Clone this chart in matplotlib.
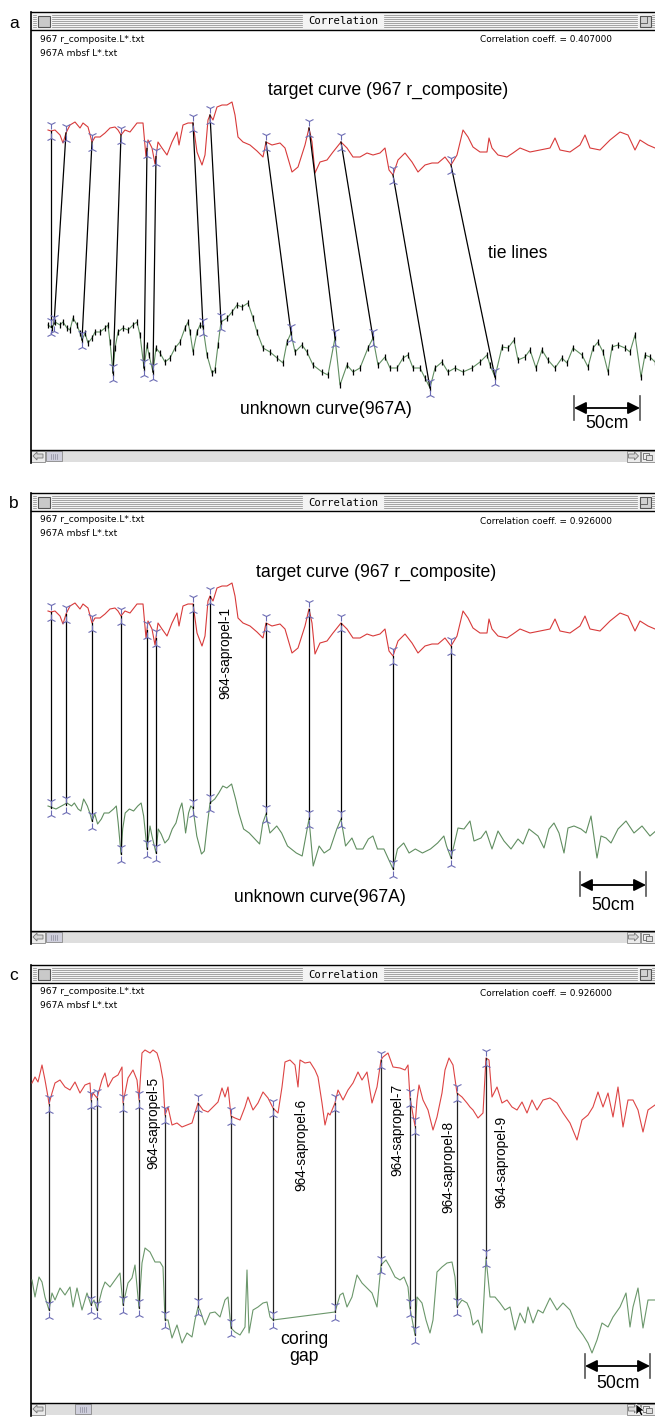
import numpy as np
import matplotlib.pyplot as plt
from matplotlib.patches import Rectangle, Polygon
from matplotlib.transforms import offset_copy

plt.rcParams['font.family'] = ['Liberation Sans', 'DejaVu Sans']
plt.rcParams['hatch.color'] = '#b0b0b0'
plt.rcParams['hatch.linewidth'] = 0.5

# ---- core 967 target curve (r_composite) and unknown curve (967A), panels a/b
target_x = [48, 51, 55, 60, 63, 66, 70, 75, 80, 83, 88, 92, 95, 100, 105, 110,
            115, 118, 121, 125, 130, 137, 143, 146, 148, 152, 155, 158, 162,
            167, 172, 177, 179, 183, 188, 193, 197, 202, 205, 208, 210, 213,
            217, 222, 227, 232, 235, 238, 243, 250, 257, 263, 266, 272, 280,
            285, 292, 298, 305, 309, 312, 315, 320, 327, 333, 341, 347, 353,
            360, 367, 373, 380, 385, 389, 393, 398, 405, 412, 418, 425, 432,
            438, 445, 451, 457, 463, 468, 473, 480, 487, 489, 492, 498, 507,
            513, 520, 530, 540, 550, 555, 560, 570, 580, 585, 590, 600, 610,
            620, 628, 635, 640, 648, 655]
target_v = [130, 131, 130, 135, 143, 133, 125, 122, 128, 123, 127, 142, 137, 137,
            133, 128, 127, 130, 135, 130, 132, 123, 123, 157, 140, 148, 164, 142,
            148, 155, 142, 132, 145, 125, 123, 123, 152, 165, 155, 120, 115, 120,
            107, 105, 105, 102, 115, 137, 142, 145, 151, 157, 142, 145, 143, 148,
            172, 167, 145, 128, 142, 173, 162, 160, 152, 142, 148, 157, 157, 153,
            155, 153, 148, 170, 175, 160, 153, 162, 172, 165, 163, 163, 157, 165,
            155, 130, 137, 147, 152, 152, 138, 148, 155, 157, 153, 148, 152, 150,
            148, 138, 150, 152, 145, 135, 148, 150, 140, 132, 135, 150, 140, 145,
            148]

unknown_x = [48, 52, 55, 60, 63, 67, 70, 73, 77, 80, 82, 85, 88, 92, 95, 100,
             105, 108, 110, 113, 115, 118, 123, 128, 133, 137, 140, 144, 147,
             149, 153, 156, 160, 165, 170, 175, 180, 185, 188, 190, 193, 197,
             200, 203, 207, 212, 215, 218, 221, 227, 232, 237, 242, 248, 253,
             257, 263, 270, 277, 283, 287, 291, 295, 302, 307, 313, 322, 328,
             335, 340, 347, 353, 360, 368, 373, 378, 385, 390, 397, 403, 408,
             413, 420, 425, 430, 435, 442, 448, 455, 463, 472, 480, 487, 490,
             495, 502, 508, 514, 518, 525, 530, 536, 542, 548, 555, 562, 567,
             573, 582, 588, 593, 598, 603, 608, 612, 618, 625, 630, 635, 641,
             645, 650, 655, 662, 670, 678, 686, 694, 702]
unknown_v = [325, 328, 322, 325, 322, 328, 330, 318, 325, 333, 340, 333, 343, 338,
             332, 332, 328, 325, 342, 373, 348, 332, 328, 330, 325, 322, 335, 368,
             345, 355, 372, 348, 353, 362, 358, 348, 342, 328, 322, 332, 352, 332,
             325, 327, 355, 373, 370, 345, 322, 318, 312, 305, 307, 303, 318, 332,
             348, 352, 358, 363, 342, 333, 352, 345, 352, 365, 372, 375, 338, 385,
             365, 372, 368, 348, 338, 365, 357, 368, 368, 358, 355, 368, 368, 378,
             388, 368, 362, 372, 368, 372, 368, 362, 355, 365, 377, 347, 348, 340,
             360, 357, 350, 368, 350, 360, 368, 358, 363, 348, 355, 367, 348, 342,
             352, 372, 347, 345, 348, 352, 335, 377, 355, 357, 362, 348, 340, 352,
             345, 355, 348]

# tie points: position on target curve -> position on unknown curve
tie_target = [51, 66, 92, 121, 147, 156, 193, 210, 266, 309, 341, 393, 451]
tie_unknown = [51, 54, 82, 113, 144, 153, 203, 221, 291, 335, 373, 430, 495]

# ---- deeper interval, panel c
c_target_x = [32, 35, 38, 42, 45, 48, 49, 52, 55, 60, 65, 70, 75, 80, 85, 90, 91,
              93, 97, 102, 105, 108, 113, 118, 122, 123, 128, 133, 137, 139, 142,
              145, 150, 153, 157, 160, 163, 165, 168, 172, 177, 182, 187, 192,
              195, 198, 203, 208, 213, 218, 222, 225, 228, 231, 235, 240, 245,
              248, 253, 258, 263, 268, 273, 278, 282, 285, 290, 295, 298, 300,
              305, 310, 315, 318, 322, 325, 328, 330, 335, 338, 343, 348, 353,
              358, 362, 367, 372, 377, 381, 383, 388, 393, 400, 405, 408, 410,
              415, 417, 419, 423, 428, 433, 437, 442, 445, 449, 453, 457, 462,
              467, 470, 473, 478, 483, 486, 489, 492, 497, 502, 507, 512, 517,
              522, 527, 532, 537, 543, 550, 557, 563, 570, 577, 582, 588, 593,
              598, 603, 608, 613, 618, 623, 628, 633, 638, 643, 648, 655]
c_target_v = [1083, 1077, 1082, 1065, 1080, 1097, 1104, 1093, 1083, 1080, 1087,
              1090, 1082, 1093, 1085, 1083, 1100, 1093, 1098, 1080, 1073, 1087,
              1078, 1075, 1067, 1103, 1078, 1070, 1080, 1100, 1053, 1050, 1053,
              1050, 1053, 1063, 1080, 1115, 1107, 1125, 1123, 1127, 1125, 1123,
              1113, 1103, 1110, 1112, 1107, 1102, 1088, 1097, 1087, 1116, 1118,
              1120, 1107, 1097, 1110, 1103, 1092, 1098, 1108, 1113, 1087, 1062,
              1060, 1065, 1087, 1060, 1063, 1062, 1070, 1077, 1103, 1125, 1113,
              1115, 1103, 1090, 1100, 1090, 1083, 1072, 1080, 1072, 1103, 1087,
              1060, 1057, 1053, 1067, 1068, 1070, 1065, 1098, 1126, 1100, 1085,
              1100, 1110, 1130, 1117, 1093, 1070, 1058, 1065, 1093, 1097, 1103,
              1107, 1110, 1118, 1113, 1058, 1060, 1097, 1087, 1103, 1100, 1107,
              1110, 1102, 1113, 1100, 1110, 1100, 1098, 1103, 1113, 1123, 1140,
              1120, 1115, 1107, 1092, 1107, 1093, 1117, 1087, 1127, 1100, 1100,
              1110, 1132, 1110, 1105]

c_unknown_x = [32, 35, 39, 42, 45, 49, 52, 55, 60, 65, 70, 73, 77, 82, 87, 91, 94,
               97, 102, 105, 110, 115, 120, 123, 128, 132, 135, 139, 142, 145,
               150, 155, 160, 163, 165, 168, 172, 177, 182, 187, 192, 195, 198,
               200, 205, 210, 215, 220, 225, 228, 231, 235, 240, 245, 247, 249,
               253, 258, 263, 267, 270, 273, 335, 340, 343, 347, 352, 357, 362,
               367, 372, 377, 381, 386, 390, 395, 400, 404, 408, 410, 415, 417,
               422, 426, 430, 433, 437, 442, 447, 452, 455, 457, 462, 467, 470,
               473, 478, 482, 484, 486, 490, 495, 500, 505, 510, 515, 520, 525,
               528, 533, 538, 543, 550, 557, 563, 570, 577, 583, 588, 592, 597,
               602, 608, 613, 620, 626, 630, 633, 638, 643, 648, 655]
c_unknown_v = [1280, 1297, 1277, 1282, 1297, 1310, 1293, 1300, 1288, 1295, 1287,
               1307, 1288, 1310, 1293, 1305, 1300, 1310, 1290, 1282, 1287, 1280,
               1273, 1305, 1283, 1278, 1265, 1308, 1263, 1248, 1252, 1262, 1262,
               1267, 1320, 1320, 1338, 1325, 1343, 1333, 1337, 1320, 1307, 1310,
               1325, 1313, 1312, 1317, 1300, 1297, 1328, 1332, 1335, 1327, 1270,
               1333, 1310, 1307, 1303, 1302, 1317, 1320, 1312, 1295, 1293, 1307,
               1297, 1275, 1283, 1288, 1293, 1307, 1265, 1260, 1267, 1277, 1280,
               1277, 1287, 1308, 1335, 1297, 1303, 1320, 1333, 1320, 1272, 1267,
               1263, 1262, 1277, 1307, 1300, 1303, 1310, 1325, 1320, 1333, 1297,
               1258, 1297, 1297, 1303, 1310, 1307, 1330, 1313, 1323, 1307, 1323,
               1310, 1313, 1298, 1310, 1303, 1310, 1327, 1335, 1343, 1353, 1340,
               1323, 1327, 1317, 1307, 1293, 1327, 1307, 1288, 1328, 1300, 1300]
c_ties = [49, 91, 97, 123, 139, 165, 198, 231, 273, 335, 381, 410, 415, 457, 486]

coeffs = ['0.407000', '0.926000', '0.926000']
files = ['967 r_composite.L*.txt', '967A mbsf L*.txt']
c_sapropels = ['964-sapropel-5', '964-sapropel-6', '964-sapropel-7',
               '964-sapropel-8', '964-sapropel-9']

RED = '#d83a3a'
GREEN = '#618e61'
MARK = '#6c6cb4'
W, H = 655, 1417

fig = plt.figure(figsize=(W / 100, H / 100), dpi=100)
bg = fig.add_axes([0, 0, 1, 1])
bg.set_xlim(0, W)
bg.set_ylim(H, 0)
bg.axis('off')


def arrow_glyph(cx, cy, direction):
    pts = np.array([(-5, 0), (-1, -4), (-1, -2), (5, -2), (5, 2), (-1, 2), (-1, 4)])
    pts[:, 0] *= direction
    bg.add_patch(Polygon(pts + [cx, cy], closed=True, fc='#d8d8d8', ec='#777', lw=0.6))


def window(top, letter, coeff, thumb_x):
    # title bar
    bg.add_patch(Rectangle((31, top), W - 31, 18, fc='#f4f4f4', ec='none'))
    for k in range(7):
        y = top + 3 + 2 * k
        for x0, x1 in [(33, 36), (52, 302), (384, 637), (652, W)]:
            bg.plot([x0, x1], [y, y], color='#8e8e8e', lw=0.55)
    bg.add_patch(Rectangle((38, top + 3.5), 12, 11, fc='#c9c9c9', ec='#555', lw=0.8))
    bg.add_patch(Rectangle((640, top + 3.5), 11, 11, fc='#d2d2d2', ec='#555', lw=0.8))
    bg.add_patch(Rectangle((640, top + 3.5), 7, 7, fc='none', ec='#555', lw=0.6))
    bg.text(343, top + 9.5, 'Correlation', family='DejaVu Sans Mono', fontsize=7.6,
            ha='center', va='center')
    bg.plot([31, W], [top, top], color='k', lw=1)
    bg.plot([31, W], [top + 18, top + 18], color='k', lw=1)
    bg.plot([31, 31], [top, top + 451], color='k', lw=1.2)
    # header
    bg.text(40, top + 27, files[0], family='DejaVu Sans', fontsize=6.6, va='center')
    bg.text(40, top + 41, files[1], family='DejaVu Sans', fontsize=6.6, va='center')
    bg.text(480, top + 28, 'Correlation coeff. = ' + coeff, family='DejaVu Sans',
            fontsize=6.4, va='center')
    bg.text(14, top + 11, letter, fontsize=12.5, ha='center', va='center')
    # scroll bar
    ys = top + 438
    bg.add_patch(Rectangle((31, ys), W - 31, 12, fc='#dedede', ec='none', hatch='.....'))
    bg.plot([31, W], [ys, ys], color='k', lw=1)
    bg.add_patch(Rectangle((31, ys + 0.5), 14, 11, fc='#ececec', ec='#888', lw=0.6))
    arrow_glyph(38, ys + 6, 1)
    bg.add_patch(Rectangle((thumb_x, ys + 1), 16, 10, fc='#cfcfdc', ec='#8a8a8a', lw=0.6))
    for vx in range(int(thumb_x) + 5, int(thumb_x) + 12, 2):
        bg.plot([vx, vx], [ys + 3.5, ys + 8.5], color='#8a8a9a', lw=0.5)
    bg.add_patch(Rectangle((627, ys + 0.5), 13, 11, fc='#ececec', ec='#888', lw=0.6))
    arrow_glyph(633.5, ys + 6, -1)
    bg.add_patch(Rectangle((641, ys + 0.5), 14, 11, fc='#ececec', ec='#888', lw=0.6))
    bg.add_patch(Rectangle((643, ys + 2.5), 6, 6, fc='none', ec='#666', lw=0.6))
    bg.add_patch(Rectangle((646, ys + 5), 6, 5, fc='#e0e0e0', ec='#666', lw=0.6))


def content(top, view_top):
    y0, y1 = top + 18, top + 438
    ax = fig.add_axes([31 / W, 1 - y1 / H, (W - 31) / W, (y1 - y0) / H])
    ax.set_xlim(31, W)
    ax.set_ylim(view_top + 438, view_top + 18)
    ax.axis('off')
    return ax


def tie_marks(ax, x, y):
    up = offset_copy(ax.transData, fig=fig, y=7, units='dots')
    dn = offset_copy(ax.transData, fig=fig, y=-7, units='dots')
    ax.plot(x, y, ls='none', marker='1', ms=6.5, mew=0.8, color=MARK, transform=up, zorder=5)
    ax.plot(x, y, ls='none', marker='2', ms=6.5, mew=0.8, color=MARK, transform=dn, zorder=5)


def ties(ax, xt, yt, xu, yu, color='k'):
    ax.plot(np.vstack([xt, xu]), np.vstack([yt, yu]), color=color, lw=0.9, zorder=3)
    tie_marks(ax, xt, yt)
    tie_marks(ax, xu, yu)


def scale_bar(x0, x1, yt, yb, ya, ytxt):
    bg.plot([x0, x0], [yt, yb], color='#555', lw=1.2)
    bg.plot([x1, x1], [yt, yb], color='#555', lw=1.2)
    bg.annotate('', xy=(x0, ya), xytext=(x1, ya),
                arrowprops=dict(arrowstyle='<|-|>,head_length=0.6,head_width=0.3',
                                color='k', lw=1.3, mutation_scale=12,
                                shrinkA=0, shrinkB=0))
    bg.text((x0 + x1) / 2, ytxt, '50cm', fontsize=12.7, ha='center', va='center')


def warp(x):
    # stretch unknown depths onto target depths through the tie points
    x = np.asarray(x, float)
    out = np.interp(x, tie_unknown, tie_target)
    lo, hi = x < tie_unknown[0], x > tie_unknown[-1]
    out[lo] = x[lo] + tie_target[0] - tie_unknown[0]
    out[hi] = x[hi] + tie_target[-1] - tie_unknown[-1]
    return out


tie_tv = np.interp(tie_target, target_x, target_v)
tie_uv = np.interp(tie_unknown, unknown_x, unknown_v)

# ---- a: before correlation
window(12, 'a', coeffs[0], 46)
ax = content(12, 12)
ax.plot(target_x, target_v, color=RED, lw=0.8)
ax.plot(unknown_x, unknown_v, color=GREEN, lw=0.8)
ax.plot(unknown_x, unknown_v, ls='none', marker='|', ms=4, mew=0.9, color='k')
ties(ax, tie_target, tie_tv, tie_unknown, tie_uv)
bg.text(388, 90, 'target curve (967 r_composite)', fontsize=12.7, ha='center', va='center')
bg.text(518, 253, 'tie lines', fontsize=12.7, ha='center', va='center')
bg.text(326, 410, 'unknown curve(967A)', fontsize=12.7, ha='center', va='center')
scale_bar(574, 640, 396, 420, 408, 424)

# ---- b: after correlation
window(493, 'b', coeffs[1], 46)
ax = content(493, 12)
ax.plot(target_x, target_v, color=RED, lw=0.8)
ax.plot(warp(unknown_x), unknown_v, color=GREEN, lw=0.8)
ties(ax, tie_target, tie_tv, tie_target, tie_uv)
bg.text(376, 572, 'target curve (967 r_composite)', fontsize=12.7, ha='center', va='center')
bg.text(225, 653, '964-sapropel-1', fontsize=9.8, rotation=90, ha='center', va='center')
bg.text(320, 897, 'unknown curve(967A)', fontsize=12.7, ha='center', va='center')
scale_bar(580, 646, 872, 896, 885, 906)

# ---- c: sapropel interval with coring gap
window(965, 'c', coeffs[2], 75)
ax = content(965, 965)
ax.plot(c_target_x, c_target_v, color='#dd4444', lw=0.8)
ax.plot(c_unknown_x, c_unknown_v, color='#6b976b', lw=0.8)
ties(ax, c_ties, np.interp(c_ties, c_target_x, c_target_v),
     c_ties, np.interp(c_ties, c_unknown_x, c_unknown_v), color='#222')
for label, (lx, ly) in zip(c_sapropels, [(153, 1123), (301, 1145), (397, 1130),
                                         (448, 1167), (501, 1162)]):
    bg.text(lx, ly, label, fontsize=9.8, rotation=90, ha='center', va='center')
bg.text(304, 1348, 'coring\ngap', fontsize=12.7, ha='center', va='center',
        linespacing=0.95)
scale_bar(585, 650, 1354, 1378, 1366, 1384)
bg.add_patch(Polygon(np.array([(0, 0), (0, 11), (3, 8), (5, 12), (7, 11), (5, 7), (9, 7)])
                     + [636, 1404], closed=True, fc='k', ec='w', lw=0.5, zorder=6))

fig.savefig('out.png', dpi=100)
